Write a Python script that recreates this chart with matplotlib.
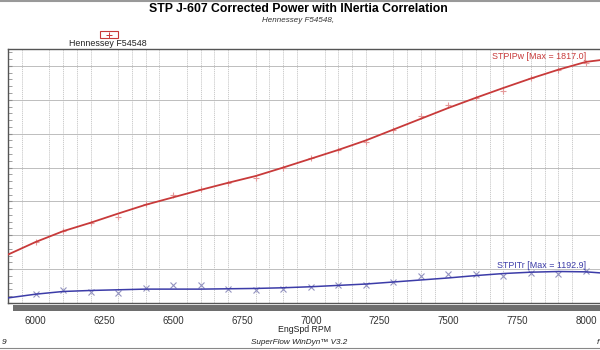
import matplotlib
matplotlib.use("Agg")
import matplotlib.pyplot as plt
from matplotlib.patches import Rectangle
from matplotlib.lines import Line2D

plt.rcParams['font.family'] = ['Liberation Sans', 'DejaVu Sans']

# Geglaettete Kurven (alle 100 RPM, am Rand 5900 / 8050)
rpm_line = [5900, 6000, 6100, 6200, 6300, 6400, 6500, 6600, 6700, 6800, 6900,
            7000, 7100, 7200, 7300, 7400, 7500, 7600, 7700, 7800, 7900, 8000, 8050]
pw_line = [1243, 1280, 1312, 1337, 1364, 1390, 1412, 1434, 1455, 1475, 1500,
           1526, 1552, 1580, 1612, 1644, 1676, 1706, 1735, 1763, 1789, 1812, 1817]
tr_line = [1115, 1126, 1134, 1137, 1139, 1141, 1141, 1141, 1142, 1143, 1145,
           1148, 1152, 1156, 1162, 1168, 1174, 1181, 1187, 1191, 1193, 1192, 1189]

# Messpunkte
rpm_pts = [6000, 6100, 6200, 6300, 6400, 6500, 6600, 6700, 6800, 6900, 7000,
           7100, 7200, 7300, 7400, 7500, 7600, 7700, 7800, 7900, 8000]
pw_pts = [1280, 1312, 1337, 1354, 1392, 1420, 1437, 1454, 1469, 1498, 1528,
          1552, 1576, 1612, 1651, 1684, 1704, 1726, 1763, 1787, 1810]
tr_pts = [1126, 1138, 1132, 1131, 1143, 1152, 1152, 1142, 1137, 1142, 1148,
          1152, 1153, 1162, 1179, 1185, 1185, 1180, 1189, 1187, 1195]

x_ticks = [6000, 6250, 6500, 6750, 7000, 7250, 7500, 7750, 8000]

RED = '#c83a3a'
BLUE = '#3c3ca8'

W, H = 600, 350
fig = plt.figure(figsize=(6, 3.5), dpi=100)
ax = fig.add_axes([8 / W, 1 - 303 / H, 1 - 8 / W, (303 - 49) / H])

ax.plot(rpm_line, pw_line, color=RED, lw=1.3, zorder=3)
ax.plot(rpm_line, tr_line, color=BLUE, lw=1.1, zorder=3)
ax.plot(rpm_pts, pw_pts, ls='none', marker='+', ms=5, mew=0.8, color='#e49a9a', zorder=2)
ax.plot(rpm_pts, tr_pts, ls='none', marker='x', ms=4.5, mew=0.8, color='#9494c0', zorder=2)

ax.set_xlim(5900, 8051)
ax.set_ylim(1100, 1850)
ax.set_xticks(x_ticks)
ax.set_xticks(range(5900, 8051, 50), minor=True)
ax.set_yticks(range(1100, 1851, 100))
ax.set_yticks(range(1100, 1851, 20), minor=True)
ax.set_yticklabels([])
ax.grid(True, which='major', axis='y', color='#bdbdbd', lw=0.7)
ax.grid(True, which='minor', axis='x', color='#c4c4c4', lw=0.6, ls=(0, (1.5, 1)))
ax.tick_params(axis='x', which='both', length=0, labelsize=7, labelcolor='#333333', pad=9)
ax.tick_params(axis='y', which='both', direction='in', length=3, color='#909090', labelleft=False)
for s in ax.spines.values():
    s.set_color('#555555')
    s.set_linewidth(1.0)
ax.spines['right'].set_visible(False)

ax.text(0.976, 0.97, 'STPIPw [Max = 1817.0]', transform=ax.transAxes, color=RED,
        fontsize=6.4, ha='right', va='center')
ax.text(0.976, 0.148, 'STPITr [Max = 1192.9]', transform=ax.transAxes, color=BLUE,
        fontsize=6.4, ha='right', va='center')

# Titel und Legende
fig.text(0.497, 1 - 9 / H, 'STP J-607 Corrected Power with INertia Correlation',
         ha='center', va='center', fontsize=8.8, fontweight='bold')
fig.text(0.496, 1 - 20 / H, 'Hennessey F54548,', ha='center', va='center',
         fontsize=5.8, style='italic', color='#333333')
fig.patches.append(Rectangle((100 / W, 1 - 38 / H), 18 / W, 7 / H, transform=fig.transFigure,
                             fill=False, ec=RED, lw=0.8))
fig.lines.append(Line2D([109 / W], [1 - 34.5 / H], marker='+', ms=4, mew=0.7,
                        color=RED, transform=fig.transFigure))
fig.text(108 / W, 1 - 44 / H, 'Hennessey F54548', ha='center', va='center', fontsize=6.4,
         color='#222222')

# Schattenbalken unter der Achse
fig.patches.append(Rectangle((13 / W, 1 - 311 / H), 587 / W, 6 / H, transform=fig.transFigure,
                             color='#6e6e6e', lw=0))

fig.text(305 / W, 1 - 330 / H, 'EngSpd RPM', ha='center', va='center', fontsize=6.3,
         color='#222222')
fig.text(299 / W, 1 - 342 / H, 'SuperFlow WinDyn\u2122 V3.2', ha='center', va='center',
         fontsize=5.9, style='italic', color='#222222')
fig.text(2 / W, 1 - 342 / H, '9', ha='left', va='center', fontsize=6, style='italic',
         color='#222222')
fig.text(597 / W, 1 - 342 / H, 'f', ha='left', va='center', fontsize=6, style='italic',
         color='#222222')
fig.lines.append(Line2D([0, 1], [1 - 348 / H, 1 - 348 / H], color='#888888', lw=0.8,
                        transform=fig.transFigure))
fig.lines.append(Line2D([0, 1], [1 - 1 / H, 1 - 1 / H], color='#999999', lw=1.5,
                        transform=fig.transFigure))

fig.savefig('out.png', dpi=100)
